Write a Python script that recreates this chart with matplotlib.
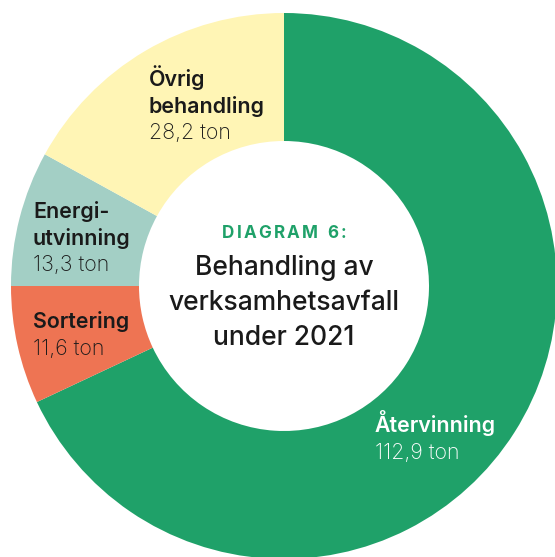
import matplotlib
matplotlib.use("Agg")
import matplotlib.pyplot as plt

# === DATA ===
categories = ["Återvinning", "Sortering", "Energi-\nutvinning", "Övrig\nbehandling"]
values = [112.9, 11.6, 13.3, 28.2]
value_labels = ["112,9 ton", "11,6 ton", "13,3 ton", "28,2 ton"]
colors = ["#1fa169", "#ee7453", "#a3cfc5", "#fff5b5"]
title_kicker = "DIAGRAM 6:"
title_lines = ["Behandling av", "verksamhetsavfall", "under 2021"]

# === LAYOUT (pixels) ===
W, H = 555, 557
CX, CY = 284, 286
R_OUT, R_IN = 273, 145
FONT = "Inter"
DARK = "#1a1a1a"


def py(y):
    # pixel row (top=0) to data y
    return H - y


fig = plt.figure(figsize=(W / 100, H / 100), dpi=100)
ax = fig.add_axes([0, 0, 1, 1])

ax.pie(values, startangle=90, counterclock=False, radius=R_OUT,
       center=(CX, py(CY)), colors=colors,
       wedgeprops=dict(width=R_OUT - R_IN, linewidth=0))
ax.set_xlim(0, W)
ax.set_ylim(0, H)
ax.set_aspect("equal")
ax.axis("off")

# segment labels: (x, first baseline, text colour)
label_pos = [(375, 432, "white"), (33, 328, DARK), (33, 218, DARK), (149, 86, DARK)]
line_h = 26.7
for name, val, (x, y, c) in zip(categories, value_labels, label_pos):
    lines = name.split("\n")
    for i, ln in enumerate(lines):
        ax.text(x, py(y + i * line_h), ln, fontsize=15.4, fontweight="semibold",
                family=FONT, color=c, va="baseline", ha="left")
    ax.text(x, py(y + len(lines) * line_h), val, fontsize=15.4, fontweight="light",
            family=FONT, color=c, va="baseline", ha="left")

# kicker with letter spacing
renderer = fig.canvas.get_renderer()
spacing = 2.2
chars = []
total = 0
for ch in title_kicker:
    t = ax.text(0, 0, ch if ch != " " else "\u00a0", fontsize=12.3, fontweight="bold",
                family=FONT, color=colors[0], va="baseline", ha="left")
    w = t.get_window_extent(renderer).width if ch != " " else 5
    chars.append((t, w))
    total += w + spacing
total -= spacing
x = CX - total / 2
for t, w in chars:
    t.set_position((x, py(238)))
    x += w + spacing

for i, ln in enumerate(title_lines):
    ax.text(CX, py(275 + i * 35), ln, fontsize=19, fontweight="medium", family=FONT,
            color=DARK, va="baseline", ha="center")

fig.savefig("out.png", dpi=100)
